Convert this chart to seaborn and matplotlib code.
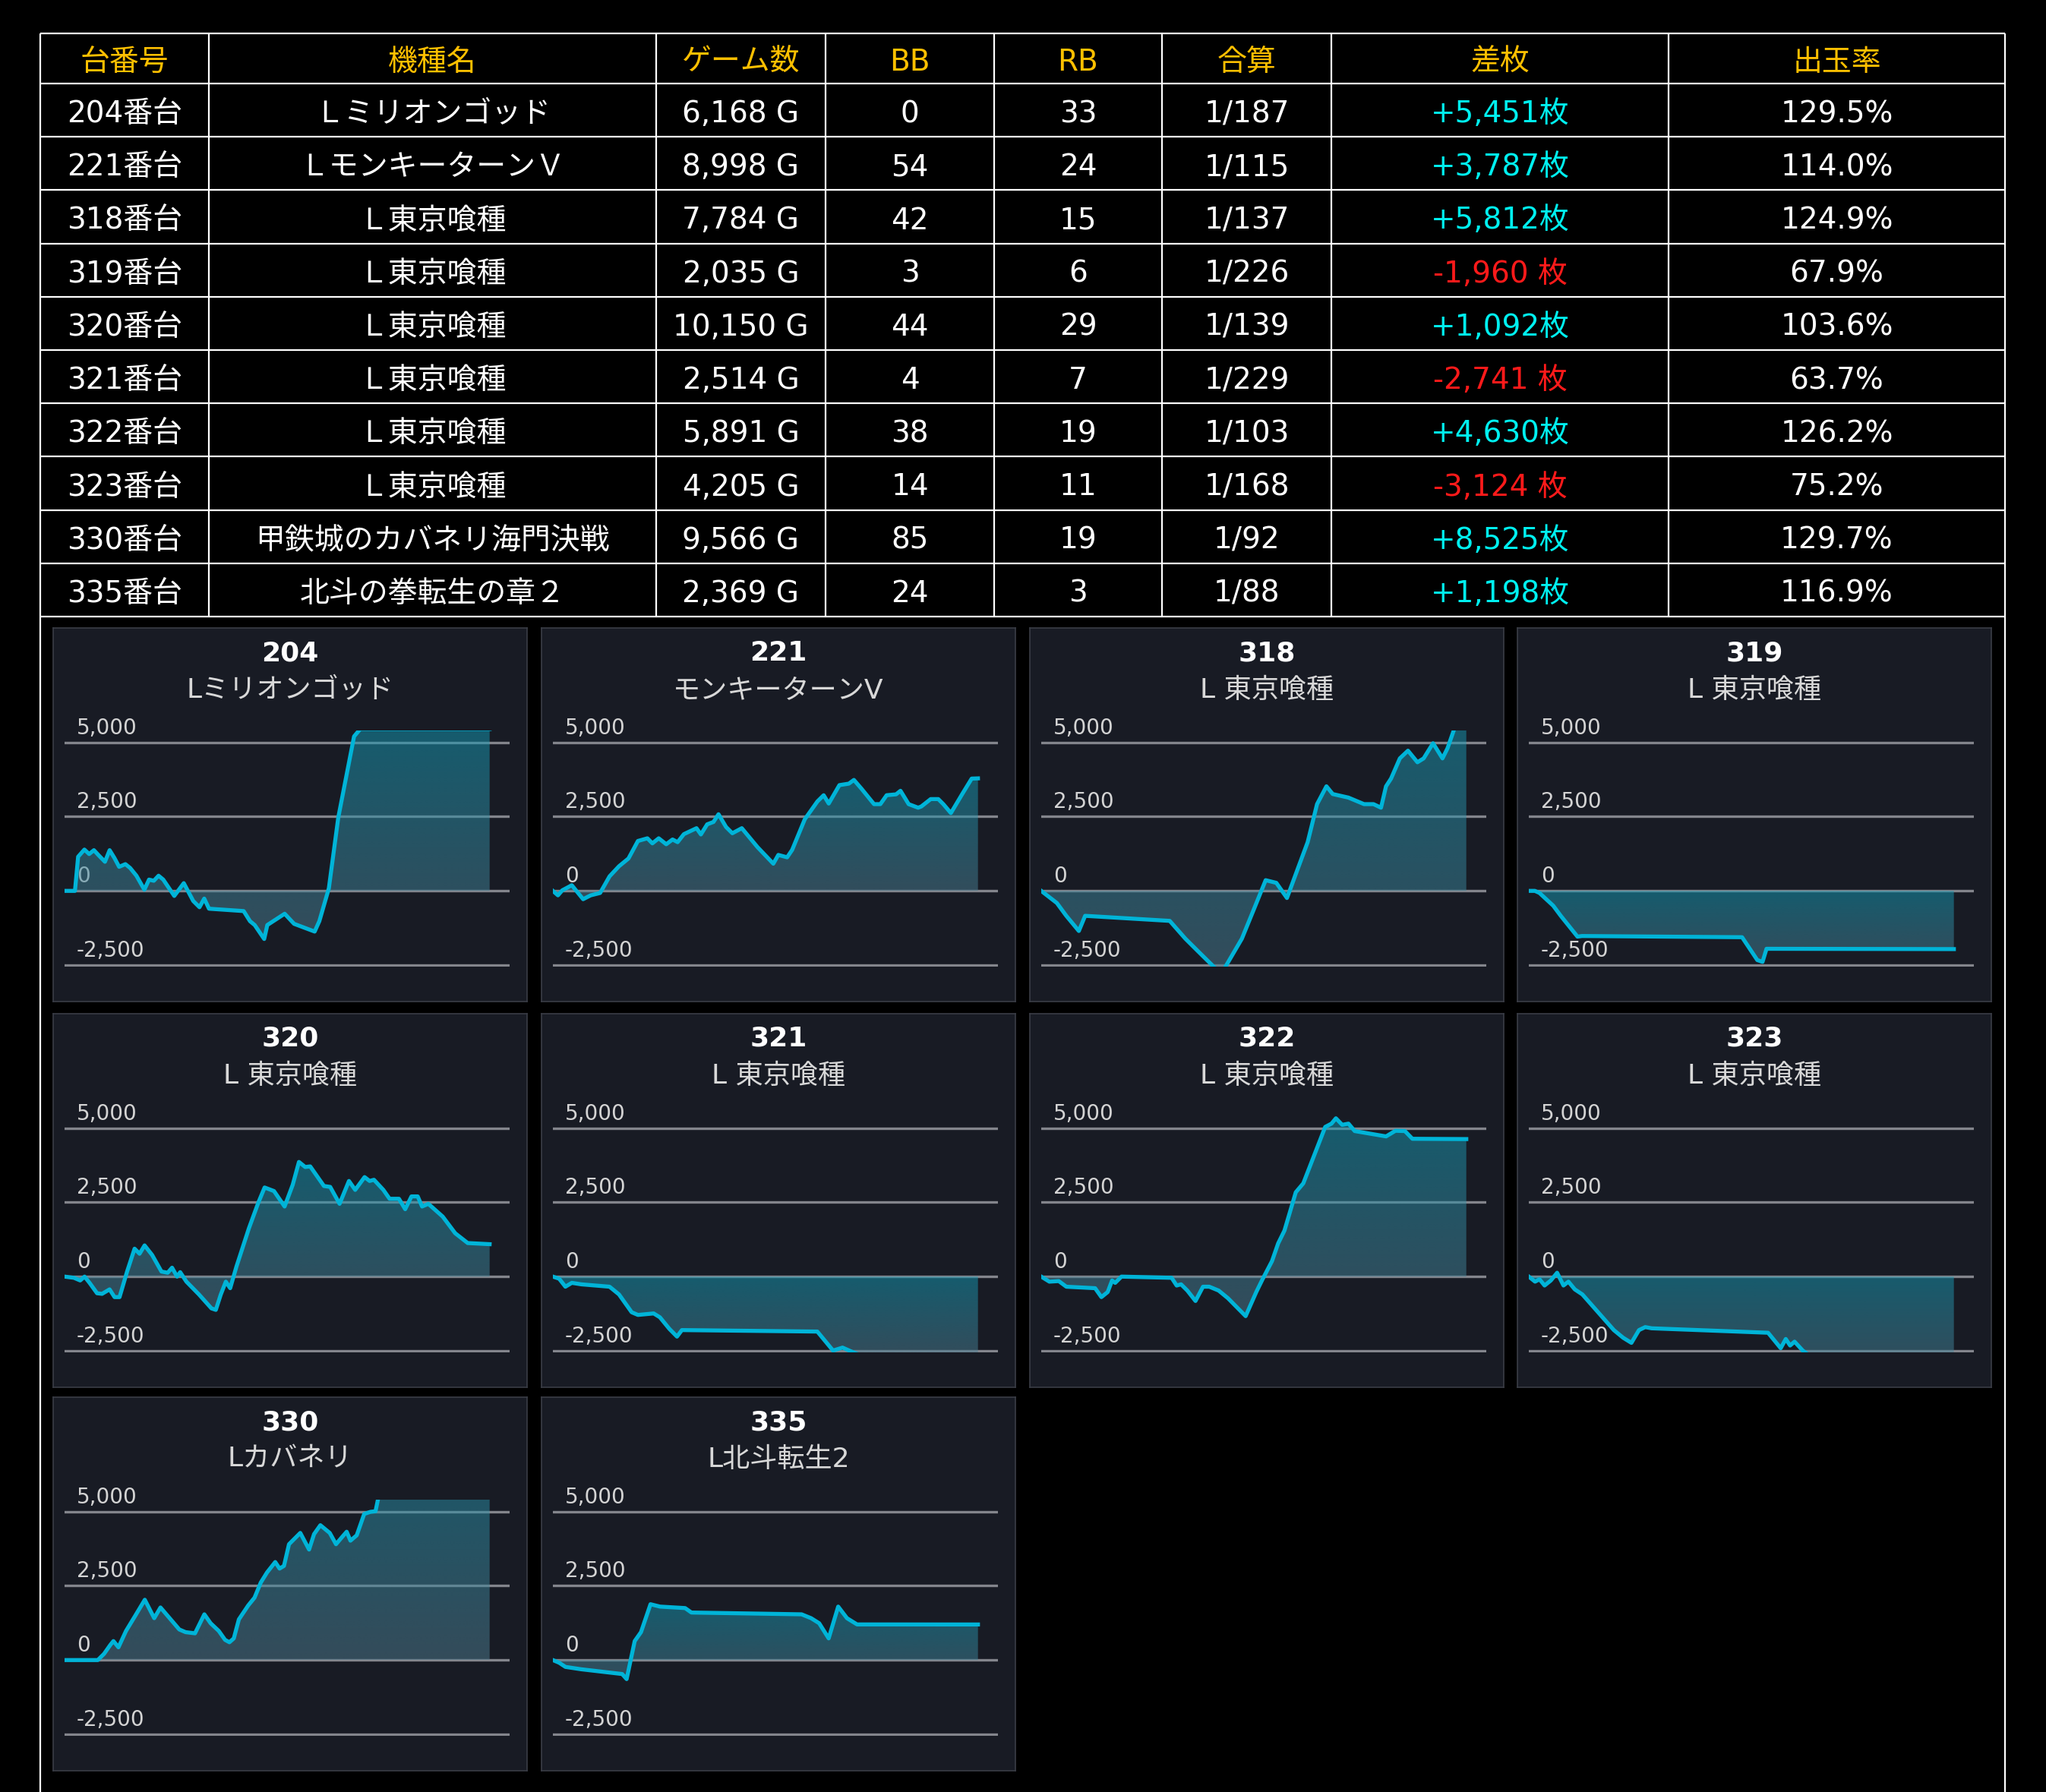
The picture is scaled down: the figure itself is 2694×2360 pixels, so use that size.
import numpy as np
import matplotlib
matplotlib.use("Agg")
import matplotlib.pyplot as plt
import seaborn as sns

# ---------------- table data ----------------
headers = ["台番号", "機種名", "ゲーム数", "BB", "RB", "合算", "差枚", "出玉率"]
machine_nos = ["204番台", "221番台", "318番台", "319番台", "320番台",
               "321番台", "322番台", "323番台", "330番台", "335番台"]
machine_names = ["Ｌミリオンゴッド", "ＬモンキーターンＶ", "Ｌ東京喰種", "Ｌ東京喰種", "Ｌ東京喰種",
                 "Ｌ東京喰種", "Ｌ東京喰種", "Ｌ東京喰種", "甲鉄城のカバネリ海門決戦", "北斗の拳転生の章２"]
games = [6168, 8998, 7784, 2035, 10150, 2514, 5891, 4205, 9566, 2369]
bb = [0, 54, 42, 3, 44, 4, 38, 14, 85, 24]
rb = [33, 24, 15, 6, 29, 7, 19, 11, 19, 3]
combined = ["1/187", "1/115", "1/137", "1/226", "1/139", "1/229", "1/103", "1/168", "1/92", "1/88"]
diff = [5451, 3787, 5812, -1960, 1092, -2741, 4630, -3124, 8525, 1198]
payout = [129.5, 114.0, 124.9, 67.9, 103.6, 63.7, 126.2, 75.2, 129.7, 116.9]

# ---------------- chart data ----------------
chart_ids = ["204", "221", "318", "319", "320", "321", "322", "323", "330", "335"]
chart_names = ["Lミリオンゴッド", "モンキーターンV", "L 東京喰種", "L 東京喰種", "L 東京喰種",
               "L 東京喰種", "L 東京喰種", "L 東京喰種", "Lカバネリ", "L北斗転生2"]
tick_vals = [5000, 2500, 0, -2500]
tick_labels = ["5,000", "2,500", "0", "-2,500"]

x_204 = [0, 151, 197, 288, 357, 426, 494, 586, 654, 723, 792, 883, 952, 1043, 1158, 1226, 1295, 1364,
         1432, 1592, 1730, 1867, 1958, 2027, 2096, 2599, 2691, 2759, 2897, 2942, 3194, 3331, 3629,
         3697, 3835, 3972, 4201, 4292, 6168]
y_204 = [0, 0, 1150, 1390, 1240, 1370, 1200, 980, 1370, 1110, 810, 900, 770, 510, 40, 380, 340, 510,
         380, -170, 260, -340, -550, -260, -600, -680, -1020, -1150, -1620, -1150, -770, -1110, -1370,
         -1020, 85, 2470, 5200, 5451, 5451]

x_221 = [0, 107, 200, 400, 640, 800, 1000, 1200, 1400, 1600, 1800, 2000, 2106, 2240, 2399, 2533, 2640,
         2773, 2933, 3040, 3133, 3266, 3399, 3506, 3666, 3799, 3999, 4333, 4666, 4772, 4959, 5065,
         5332, 5599, 5732, 5839, 6065, 6265, 6372, 6532, 6798, 6932, 7065, 7265, 7358, 7531, 7731,
         7798, 7998, 8158, 8265, 8425, 8665, 8865, 8998]
y_221 = [0, -150, 20, 190, -280, -150, -70, 490, 830, 1090, 1680, 1770, 1600, 1770, 1570, 1730, 1640,
         1910, 2030, 2110, 1900, 2240, 2320, 2580, 2150, 1940, 2110, 1470, 915, 1210, 1130, 1380,
         2410, 3010, 3220, 2940, 3560, 3610, 3735, 3440, 2920, 2920, 3220, 3250, 3370, 2920, 2800,
         2840, 3090, 3090, 2920, 2620, 3260, 3780, 3787]

x_318 = [0, 287, 459, 689, 804, 2353, 2640, 2870, 3295, 3674, 3903, 4110, 4305, 4500, 4707, 4879,
         5051, 5223, 5338, 5625, 5912, 6085, 6222, 6314, 6406, 6567, 6716, 6889, 7003, 7175, 7348,
         7440, 7554, 7600, 7784]
y_318 = [0, -410, -840, -1350, -840, -1010, -1610, -2030, -2800, -1610, -580, 360, 270, -240, 790,
         1640, 2920, 3520, 3260, 3140, 2920, 2920, 2800, 3520, 3780, 4460, 4720, 4330, 4460, 4970,
         4460, 4800, 5400, 5812, 5812]

x_319 = [0, 29, 51, 117, 153, 233, 255, 1021, 1058, 1094, 1119, 1138, 1160, 2035]
y_319 = [0, 0, -70, -500, -840, -1540, -1520, -1560, -1950, -2330, -2390, -1950, -1950, -1960]

x_320 = [0, 224, 373, 478, 597, 776, 896, 1075, 1194, 1313, 1493, 1672, 1791, 1911, 2090, 2314, 2463,
         2567, 2687, 2761, 2910, 3209, 3508, 3612, 3731, 3851, 3955, 4105, 4403, 4627, 4777, 5001,
         5254, 5448, 5597, 5746, 5866, 6045, 6194, 6343, 6567, 6791, 6940, 7164, 7284, 7388, 7612,
         7761, 7985, 8134, 8284, 8433, 8537, 8687, 9030, 9328, 9627, 10150]
y_320 = [0, -40, -130, 0, -210, -560, -580, -430, -690, -690, 170, 940, 770, 1050, 730, 170, 130,
         300, 0, 150, -170, -600, -1070, -1120, -600, -170, -390, 340, 1630, 2490, 3000, 2880,
         2360, 3090, 3860, 3690, 3710, 3350, 3050, 3020, 2450, 3220, 2920, 3350, 3220, 3260, 2920,
         2620, 2620, 2270, 2700, 2700, 2360, 2450, 2020, 1460, 1130, 1092]

x_321 = [0, 37, 74, 112, 168, 335, 391, 466, 503, 596, 633, 689, 734, 763, 1564, 1657, 1713, 1769,
         1843, 2514]
y_321 = [0, -70, -340, -210, -260, -340, -600, -1200, -1290, -1240, -1370, -1760, -2020, -1800,
         -1850, -2490, -2390, -2530, -2700, -2741]

x_322 = [0, 113, 243, 348, 747, 834, 921, 982, 1025, 1112, 1807, 1877, 1938, 2025, 2138, 2242, 2329,
         2459, 2589, 2833, 2980, 3067, 3198, 3284, 3371, 3528, 3632, 3936, 4023, 4084, 4171, 4258,
         4345, 4779, 4909, 5040, 5144, 5891]
y_322 = [0, -170, -150, -340, -390, -690, -520, -130, -210, 0, -40, -300, -260, -470, -820, -340,
         -340, -470, -730, -1330, -520, -90, 520, 1120, 1550, 2840, 3140, 5040, 5150, 5330, 5110,
         5150, 4900, 4720, 4910, 4900, 4640, 4630]

x_323 = [0, 62, 106, 156, 218, 280, 343, 392, 455, 530, 841, 934, 1015, 1090, 1152, 1215, 2367, 2492,
         2542, 2585, 2629, 2710, 2835, 4205]
y_323 = [0, -170, -90, -300, -130, 130, -300, -170, -430, -600, -1800, -2060, -2230, -1800, -1700,
         -1740, -1890, -2410, -2100, -2320, -2190, -2490, -2800, -3124]

x_330 = [0, 748, 889, 1030, 1100, 1213, 1383, 1594, 1806, 2018, 2159, 2342, 2582, 2723, 2935, 3146,
         3287, 3471, 3612, 3710, 3809, 3923, 4134, 4275, 4416, 4557, 4741, 4839, 4938, 5051, 5305,
         5503, 5615, 5757, 5968, 6109, 6250, 6349, 6434, 6575, 6744, 6885, 6998, 7055, 7168, 7379,
         9566]
y_330 = [0, 0, 210, 510, 640, 430, 980, 1500, 2030, 1410, 1770, 1450, 1030, 940, 900, 1540, 1240,
         980, 680, 600, 730, 1370, 1840, 2100, 2610, 2950, 3300, 3080, 3170, 3900, 4280, 3720, 4240,
         4540, 4280, 3900, 4150, 4320, 4020, 4200, 4920, 4990, 5010, 5420, 6500, 8525, 8525]

x_335 = [0, 35, 70, 158, 386, 411, 456, 491, 544, 597, 737, 772, 1386, 1439, 1484, 1537, 1590, 1639,
         1695, 2369]
y_335 = [0, -90, -230, -310, -470, -640, 640, 940, 1880, 1800, 1750, 1600, 1540, 1410, 1240, 730,
         1800, 1410, 1200, 1198]

series_x = [x_204, x_221, x_318, x_319, x_320, x_321, x_322, x_323, x_330, x_335]
series_y = [y_204, y_221, y_318, y_319, y_320, y_321, y_322, y_323, y_330, y_335]

# ---------------- style ----------------
plt.rcParams['font.family'] = ['DejaVu Sans', 'Noto Sans CJK JP']
W, H = 2694, 2360
GOLD = "#ffc000"
POS = "#00f0f0"
NEG = "#ff1a1a"
PANEL_BG = "#181b24"
PANEL_EDGE = "#3a3d46"
GRID = "#83858c"
LINE = "#00b4d8"
TOP_C = np.array([20, 157, 184, 128]) / 255.0
BOT_C = np.array([80, 125, 145, 128]) / 255.0

fig = plt.figure(figsize=(W / 100, H / 100), dpi=100, facecolor="black")
bg = fig.add_axes([0, 0, 1, 1])
bg.set_xlim(0, W)
bg.set_ylim(H, 0)
bg.axis("off")

# ---------------- table ----------------
col_edges = [53, 275, 864, 1087, 1309, 1530, 1753, 2197, 2640]
row_h = 70.2
row_edges = [44, 110] + [110 + row_h * (i + 1) for i in range(len(machine_nos))]
tbl_bottom = row_edges[-1]

for y in row_edges:
    bg.plot([col_edges[0], col_edges[-1]], [y, y], color="white", lw=1.6, solid_capstyle="butt")
for j, x in enumerate(col_edges):
    y_end = H if j in (0, len(col_edges) - 1) else tbl_bottom
    bg.plot([x, x], [row_edges[0], y_end], color="white", lw=1.6, solid_capstyle="butt")

def cx(j):
    return (col_edges[j] + col_edges[j + 1]) / 2

FS = 28
for j, h in enumerate(headers):
    bg.text(cx(j), (row_edges[0] + row_edges[1]) / 2 + 5, h, color=GOLD, fontsize=FS,
            ha="center", va="center")

for i in range(len(machine_nos)):
    yc = (row_edges[i + 1] + row_edges[i + 2]) / 2 + 5
    d = diff[i]
    dtxt = f"+{d:,}枚" if d >= 0 else f"-{abs(d):,} 枚"
    cells = [machine_nos[i], machine_names[i], f"{games[i]:,} G", str(bb[i]), str(rb[i]),
             combined[i], dtxt, f"{payout[i]:.1f}%"]
    for j, t in enumerate(cells):
        col = "white"
        if j == 6:
            col = POS if d >= 0 else NEG
        bg.text(cx(j), yc, t, color=col, fontsize=FS, ha="center", va="center")

# ---------------- panels ----------------
panel_x = [70, 713, 1356, 1998]
panel_y = [827, 1335, 1840]
pw, ph = 624, 492
ax_dx, ax_w = 15, 586
ax_top, ax_bot = 135, 446
YLIM = (-2550, 5400)

t = np.linspace(0, 1, 256)[:, None]
grad = (BOT_C[None, :] * (1 - t) + TOP_C[None, :] * t)[:, None, :]

for k, cid in enumerate(chart_ids):
    r, c = divmod(k, 4)
    x0, y0 = panel_x[c], panel_y[r]
    axp = fig.add_axes([x0 / W, 1 - (y0 + ph) / H, pw / W, ph / H])
    axp.set_facecolor(PANEL_BG)
    axp.set_xticks([])
    axp.set_yticks([])
    for s in axp.spines.values():
        s.set_color(PANEL_EDGE)
        s.set_linewidth(1.2)
    axp.text(0.5, 1 - 33 / ph, cid, transform=axp.transAxes, ha="center", va="center",
             color="white", fontsize=26, fontweight="bold", family=["DejaVu Sans"])
    axp.text(0.5, 1 - 82 / ph, chart_names[k], transform=axp.transAxes, ha="center", va="center",
             color="#d8d8d8", fontsize=26)

    ax = fig.add_axes([(x0 + ax_dx) / W, 1 - (y0 + ax_bot) / H, ax_w / W, (ax_bot - ax_top) / H])
    ax.set_facecolor("none")
    xs = np.array(series_x[k], dtype=float)
    ys = np.array(series_y[k], dtype=float)
    G = games[k]

    for v, lab in zip(tick_vals, tick_labels):
        ax.axhline(v, color=GRID, lw=2.4, zorder=0.5)
        ax.annotate(lab, xy=(0.027, v), xycoords=("axes fraction", "data"), xytext=(0, 8),
                    textcoords="offset points", ha="left", va="baseline", color="#d4d4d4",
                    fontsize=20, zorder=0.6, annotation_clip=False)

    poly = ax.fill_between(xs, ys, 0, facecolor="none", edgecolor="none", linewidth=0)
    path = poly.get_paths()[0]
    lo, hi = min(ys.min(), 0), max(ys.max(), 0)
    im = ax.imshow(grad, extent=[xs[0], xs[-1], lo, hi], origin="lower", aspect="auto",
                   interpolation="bilinear", zorder=1)
    im.set_clip_path(path, transform=ax.transData)
    im.set_clip_box(ax.bbox)

    sns.lineplot(x=xs, y=ys, ax=ax, color=LINE, linewidth=3.8, estimator=None, sort=False,
                 zorder=3)
    ax.set_xlim(0, G * 1.047)
    ax.set_ylim(*YLIM)
    ax.axis("off")

fig.savefig("out.png", dpi=100, facecolor="black")
